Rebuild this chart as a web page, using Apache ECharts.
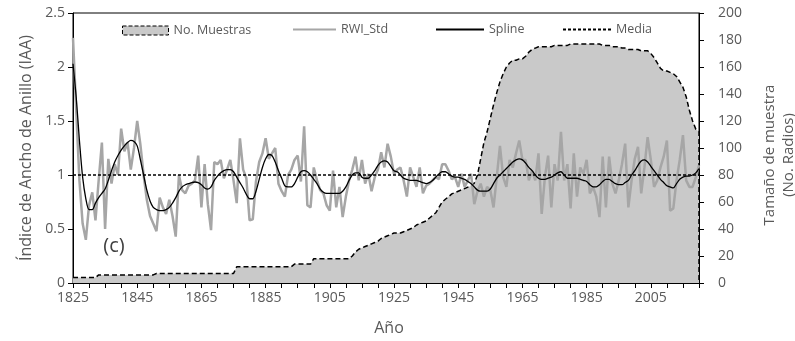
<!DOCTYPE html>
<html>
<head>
<meta charset="utf-8">
<script src="https://cdn.jsdelivr.net/npm/echarts@6/dist/echarts.min.js"></script>
<style>
  html, body { margin: 0; padding: 0; background: #fff; }
  #chart { width: 795px; height: 341px; }
</style>
</head>
<body>
<div id="chart"></div>
<script>
// Ring-width index chronology, 1825-2020
const startYear = 1825;

// Standard ring-width index (RWI_Std), one value per year
const rwiStd = [
  2.27,1.60,0.95,0.55,0.40,0.72,0.84,0.58,0.95,1.30,
  0.50,1.15,0.92,1.10,1.00,1.43,1.22,1.30,1.05,1.25,
  1.50,1.28,1.00,0.77,0.62,0.55,0.48,0.79,0.70,0.64,
  0.77,0.62,0.43,1.00,0.86,0.83,0.90,0.92,0.95,1.18,
  0.70,1.10,0.73,0.49,1.12,1.10,1.14,0.97,1.05,1.14,
  0.95,0.74,1.34,1.05,0.97,0.58,0.59,0.94,1.12,1.20,
  1.34,1.15,1.20,1.25,0.92,0.85,0.80,1.00,1.05,1.14,
  1.18,0.94,1.45,0.72,0.70,1.07,0.95,0.86,0.83,0.72,
  0.67,1.04,0.70,0.89,0.61,0.80,0.95,1.05,1.17,0.95,
  1.14,0.92,1.01,0.85,0.98,1.05,1.21,1.07,1.29,1.17,
  1.01,1.05,1.07,0.95,0.80,1.07,0.98,0.89,1.07,0.83,
  0.90,0.92,0.95,0.98,0.96,1.10,1.10,1.04,0.96,0.98,
  0.89,1.01,0.89,0.95,1.01,0.73,0.85,0.92,0.80,0.89,
  0.86,0.70,0.98,1.27,0.98,0.89,1.14,1.07,1.20,1.32,
  1.14,1.14,0.95,1.04,0.95,1.20,0.64,0.98,1.18,0.70,
  1.10,0.95,1.40,0.95,1.10,0.69,1.20,0.80,1.07,1.01,
  1.14,0.83,0.89,0.80,0.61,1.17,0.70,1.17,0.92,0.83,
  0.95,1.10,1.29,0.70,0.95,1.15,1.26,0.83,1.07,1.35,
  1.14,0.89,0.95,1.07,1.17,1.32,0.67,0.69,0.95,1.14,
  1.37,0.95,0.89,0.89,0.98,1.09
];

// Smoothing spline fitted to the index
const spline = [
  2.03,1.72,1.32,0.98,0.78,0.68,0.68,0.74,0.79,0.83,
  0.87,0.95,1.04,1.12,1.18,1.23,1.27,1.30,1.32,1.31,
  1.27,1.14,1.00,0.86,0.76,0.70,0.68,0.67,0.67,0.68,
  0.70,0.74,0.79,0.85,0.89,0.91,0.92,0.93,0.935,0.93,
  0.91,0.88,0.87,0.89,0.95,0.99,1.02,1.04,1.05,1.05,
  1.03,0.98,0.93,0.88,0.82,0.78,0.78,0.85,0.96,1.07,
  1.15,1.19,1.18,1.12,1.04,0.97,0.90,0.89,0.89,0.92,
  0.98,1.03,1.04,1.03,1.00,0.96,0.92,0.87,0.84,0.83,
  0.83,0.83,0.83,0.83,0.85,0.89,0.95,1.00,1.02,1.02,
  0.98,0.97,0.97,1.00,1.04,1.09,1.12,1.13,1.12,1.08,
  1.04,1.03,1.00,0.97,0.96,0.95,0.95,0.95,0.94,0.93,
  0.92,0.93,0.95,0.98,1.01,1.03,1.03,1.01,0.99,0.98,
  0.98,0.97,0.96,0.94,0.92,0.89,0.86,0.85,0.85,0.85,
  0.87,0.92,0.97,1.00,1.03,1.06,1.09,1.12,1.14,1.15,
  1.14,1.11,1.07,1.04,1.00,0.97,0.96,0.96,0.97,0.98,
  1.00,1.02,1.03,1.00,0.97,0.97,0.97,0.97,0.96,0.95,
  0.94,0.91,0.89,0.89,0.91,0.94,0.96,0.96,0.94,0.92,
  0.91,0.91,0.93,0.95,1.00,1.04,1.09,1.13,1.14,1.12,
  1.08,1.04,1.00,0.96,0.93,0.90,0.89,0.88,0.92,0.96,
  0.98,0.99,0.99,1.00,1.02,1.06
];

// Sample depth: number of radii per year
const muestras = [
  4,4,4,4,4,4,4,4,6,6,
  6,6,6,6,6,6,6,6,6,6,
  6,6,6,6,6,6,7,7,7,7,
  7,7,7,7,7,7,7,7,7,7,
  7,7,7,7,7,7,7,7,7,7,
  7,12,12,12,12,12,12,12,12,12,
  12,12,12,12,12,12,12,12,12,14,
  14,14,14,14,14,18,18,18,18,18,
  18,18,18,18,18,18,18,20,23,25,
  26,27,28,29,30,31,33,34,35,36,
  37,37,37,38,39,40,41,43,44,45,
  46,48,50,52,56,60,62,64,66,67,
  68,69,70,71,72,74,80,92,104,112,
  122,132,141,149,155,160,163,165,165,166,
  166,168,171,173,174,175,175,175,175,175,
  176,176,176,176,176,177,177,177,177,177,
  177,177,177,177,177,176,176,176,175,175,
  175,174,174,173,173,173,173,172,172,172,
  170,167,163,159,157,157,156,155,153,149,
  145,138,128,120,114,112
];

// Mean of the index
const mediaValue = 1;

// Labelled years on the time axis
const yearLabels = [1825, 1845, 1865, 1885, 1905, 1925, 1945, 1965, 1985, 2005];
const yearMin = 1825, yearMax = 2020;

const years = rwiStd.map((_, i) => startYear + i);
const lastYear = years[years.length - 1];
const rwiPts = years.map((y, i) => [y, rwiStd[i]]);
const splinePts = years.map((y, i) => [y, spline[i]]);
// sample depth polygon closes down to zero after the last year
const muestrasPts = years.map((y, i) => [y, muestras[i]]).concat([[lastYear, 0]]);
const mediaPts = [[yearMin, mediaValue], [yearMax, mediaValue]];

const FONT = '"Open Sans", "DejaVu Sans", sans-serif';
const GREY_TXT = '#595959';

const chart = echarts.init(document.getElementById('chart'), null, { renderer: 'canvas' });

const legendText = { color: GREY_TXT, fontSize: 12.5, fontFamily: FONT };
// line legend entries: show only the stroke, no marker
const noMarker = { opacity: 0, color: 'transparent', borderWidth: 0 };

chart.setOption({
  animation: false,
  backgroundColor: '#fff',
  grid: { left: 73, right: 96, top: 13, bottom: 58, show: true, borderColor: '#000', borderWidth: 1, backgroundColor: 'transparent' },
  legend: [
    { left: 117, top: 19, itemWidth: 46, itemHeight: 9, selectedMode: false, textStyle: legendText,
      data: [{ name: 'No. Muestras', icon: 'rect',
        itemStyle: { color: '#c9c9c9', borderColor: '#000', borderWidth: 1, borderType: [4, 2] } }] },
    { left: 287, top: 18, itemWidth: 43, itemHeight: 10, selectedMode: false, textStyle: legendText,
      data: [{ name: 'RWI_Std', itemStyle: noMarker }] },
    { left: 430, top: 18, itemWidth: 48, itemHeight: 10, selectedMode: false, textStyle: legendText,
      data: [{ name: 'Spline', itemStyle: noMarker }] },
    { left: 557, top: 18, itemWidth: 48, itemHeight: 10, selectedMode: false, textStyle: legendText,
      data: [{ name: 'Media', itemStyle: noMarker }] }
  ],
  xAxis: {
    type: 'value', min: yearMin, max: yearMax, interval: 5,
    axisLine: { show: true, lineStyle: { color: '#000', width: 1 } },
    axisTick: { show: true, length: 5, lineStyle: { color: '#000' } },
    splitLine: { show: false },
    axisLabel: {
      color: GREY_TXT, fontSize: 14, fontFamily: FONT, margin: 8,
      formatter: v => (yearLabels.indexOf(v) >= 0 ? String(v) : '')
    }
  },
  yAxis: [
    {
      type: 'value', min: 0, max: 2.5, interval: 0.5, position: 'left',
      axisLine: { show: true, lineStyle: { color: '#000' } },
      axisTick: { show: true, length: 5, lineStyle: { color: '#000' } },
      splitLine: { show: false },
      axisLabel: { color: GREY_TXT, fontSize: 14, fontFamily: FONT, margin: 8 }
    },
    {
      type: 'value', min: 0, max: 200, interval: 20, position: 'right',
      axisLine: { show: true, lineStyle: { color: '#000' } },
      axisTick: { show: true, length: 5, lineStyle: { color: '#000' } },
      splitLine: { show: false },
      axisLabel: { color: GREY_TXT, fontSize: 14, fontFamily: FONT, margin: 19 }
    }
  ],
  series: [
    {
      name: 'No. Muestras', type: 'line', yAxisIndex: 1, data: muestrasPts,
      showSymbol: false, symbol: 'none', z: 1,
      lineStyle: { color: '#000', width: 1.5, type: [5, 3] },
      itemStyle: { color: '#c9c9c9' },
      areaStyle: { color: '#c9c9c9', opacity: 1 }
    },
    {
      name: 'RWI_Std', type: 'line', yAxisIndex: 0, data: rwiPts,
      showSymbol: false, symbol: 'none', z: 2,
      lineStyle: { color: '#a6a6a6', width: 2.5 },
      itemStyle: { color: '#a6a6a6' }
    },
    {
      name: 'Spline', type: 'line', yAxisIndex: 0, data: splinePts,
      showSymbol: false, symbol: 'none', smooth: 0.3, z: 3,
      lineStyle: { color: '#000', width: 1.3 },
      itemStyle: { color: '#000' }
    },
    {
      name: 'Media', type: 'line', yAxisIndex: 0, data: mediaPts,
      showSymbol: false, symbol: 'none', z: 4,
      lineStyle: { color: '#000', width: 1.3, type: [3, 2] },
      itemStyle: { color: '#000' }
    }
  ],
  graphic: [
    { type: 'text', x: 26, y: 148, rotation: Math.PI / 2,
      style: { text: 'Índice de Ancho de Anillo (IAA)', font: '16px ' + FONT, fill: GREY_TXT, align: 'center', verticalAlign: 'middle' } },
    { type: 'text', x: 779, y: 155, rotation: Math.PI / 2,
      style: { text: 'Tamaño de muestra\n(No. Radios)', font: '15px ' + FONT, lineHeight: 19, fill: GREY_TXT, align: 'center', verticalAlign: 'middle' } },
    { type: 'text', x: 389, y: 328,
      style: { text: 'Año', font: '16px ' + FONT, fill: GREY_TXT, align: 'center', verticalAlign: 'middle' } },
    { type: 'text', x: 114, y: 246,
      style: { text: '(c)', font: '20px ' + FONT, fill: '#404040', align: 'center', verticalAlign: 'middle' } }
  ]
});
</script>
</body>
</html>
